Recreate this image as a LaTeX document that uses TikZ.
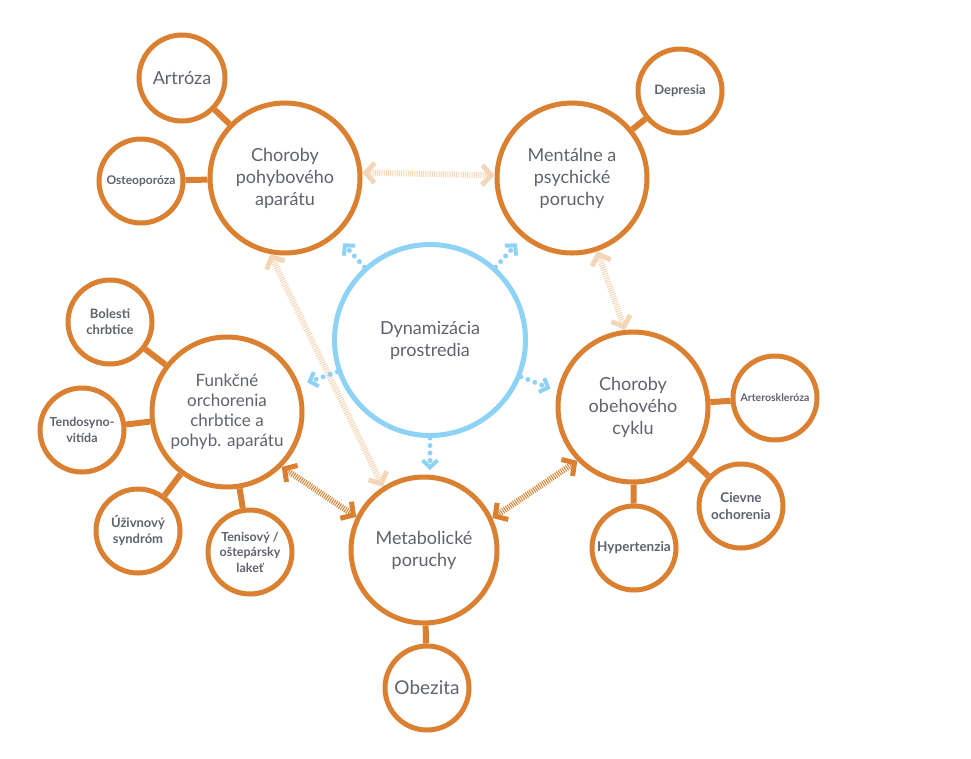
\documentclass[tikz,border=0pt]{standalone}
\usepackage{fontspec}
\setmainfont{Lato}
\usepackage{tikz}
\usetikzlibrary{arrows.meta}

\definecolor{orng}{HTML}{DA8030}
\definecolor{peach}{HTML}{F3D6B8}
\definecolor{sky}{HTML}{8ED3F5}
\definecolor{txt}{HTML}{5F636D}

\tikzset{
  big/.style={circle,draw=orng,line width=5pt,fill=white,minimum size=150pt,inner sep=0pt,
    align=center,text=txt,font=\fontsize{18}{22}\selectfont},
  small/.style={circle,draw=orng,line width=5pt,fill=white,minimum size=84pt,inner sep=0pt,
    align=center,text=txt,font=\bfseries\fontsize{13}{16}\selectfont},
  dyn/.style={big,draw=sky,minimum size=191pt},
  link/.style={draw=orng,line width=6pt},
  hatch/.style={line width=6pt,dash pattern=on 1pt off 1.2pt,
    {Straight Barb[length=9pt,width=20pt,line width=5pt]}-{Straight Barb[length=9pt,width=20pt,line width=5pt]}},
  dots/.style={draw=sky,line width=5pt,line cap=round,dash pattern=on 0pt off 7.5pt,
    -{Straight Barb[length=7pt,width=15pt,line width=4pt,line cap=butt]}}
}

\begin{document}
\begin{tikzpicture}[x=1pt,y=1pt]
\useasboundingbox (0,0) rectangle (971,-758);

% main circles
\node[big] (pohyb) at (285,-178) {Choroby\\pohybového\\aparátu};
\node[big] (mental) at (572,-178) {Mentálne a\\psychické\\poruchy};
\node[dyn] (dyn) at (430,-340) {Dynamizácia\\prostredia};
\node[big,font=\fontsize{17}{20}\selectfont] (funk) at (227,-412) {Funkčné\\orchorenia\\chrbtice a\\pohyb. aparátu};
\node[big] (obeh) at (633,-407) {Choroby\\obehového\\cyklu};
\node[big,minimum size=146pt] (metab) at (424,-550) {Metabolické\\poruchy};

% small circles
\node[small,minimum size=86pt,font=\fontsize{18}{20}\selectfont] (artroza) at (182,-78) {Artróza};
\node[small,font=\bfseries\fontsize{12}{14}\selectfont] (osteo) at (141,-181) {Osteoporóza};
\node[small] (depresia) at (680,-91) {Depresia};
\node[small] (bolesti) at (110,-322) {Bolesti\\chrbtice};
\node[small,font=\bfseries\fontsize{12.5}{16}\selectfont] (tendo) at (82,-430) {Tendosyno-\\vitída};
\node[small] (uziv) at (138,-531) {Úživnový\\syndróm};
\node[small,font=\bfseries\fontsize{12.5}{15.5}\selectfont] (tenis) at (250,-552) {Tenisový /\\oštepársky\\lakeť};
\node[small,font=\bfseries\fontsize{10.5}{12}\selectfont] (artero) at (775,-398) {Arteroskleróza};
\node[small,font=\bfseries\fontsize{13.5}{16.5}\selectfont] (cievne) at (741,-506) {Cievne\\ochorenia};
\node[small,font=\bfseries\fontsize{13.5}{16}\selectfont] (hyper) at (634,-548) {Hypertenzia};
\node[small,font=\fontsize{19}{20}\selectfont] (obezita) at (427,-688) {Obezita};

% links
\draw[link] (artroza) -- (pohyb);
\draw[link] (osteo) -- (pohyb);
\draw[link] (depresia) -- (mental);
\draw[link] (bolesti) -- (funk);
\draw[link] (tendo) -- (funk);
\draw[link] (uziv) -- (funk);
\draw[link] (tenis) -- (funk);
\draw[link] (artero) -- (obeh);
\draw[link] (cievne) -- (obeh);
\draw[link] (hyper) -- (obeh);
\draw[link] (obezita) -- (metab);

% relations
\draw[hatch,peach] (pohyb.4) -- (mental.178);
\draw[hatch,peach] (mental.289) -- (obeh.96);
\draw[hatch,peach] (pohyb.259) -- (metab.123);
\draw[hatch,orng] (funk.315) -- (metab.154);
\draw[hatch,orng] (metab.25) -- (obeh.224);

% outgoing arrows
\foreach \a in {132,48,199,338,270}
  \draw[dots] (dyn.\a) -- ++(\a:32);
\end{tikzpicture}
\end{document}
